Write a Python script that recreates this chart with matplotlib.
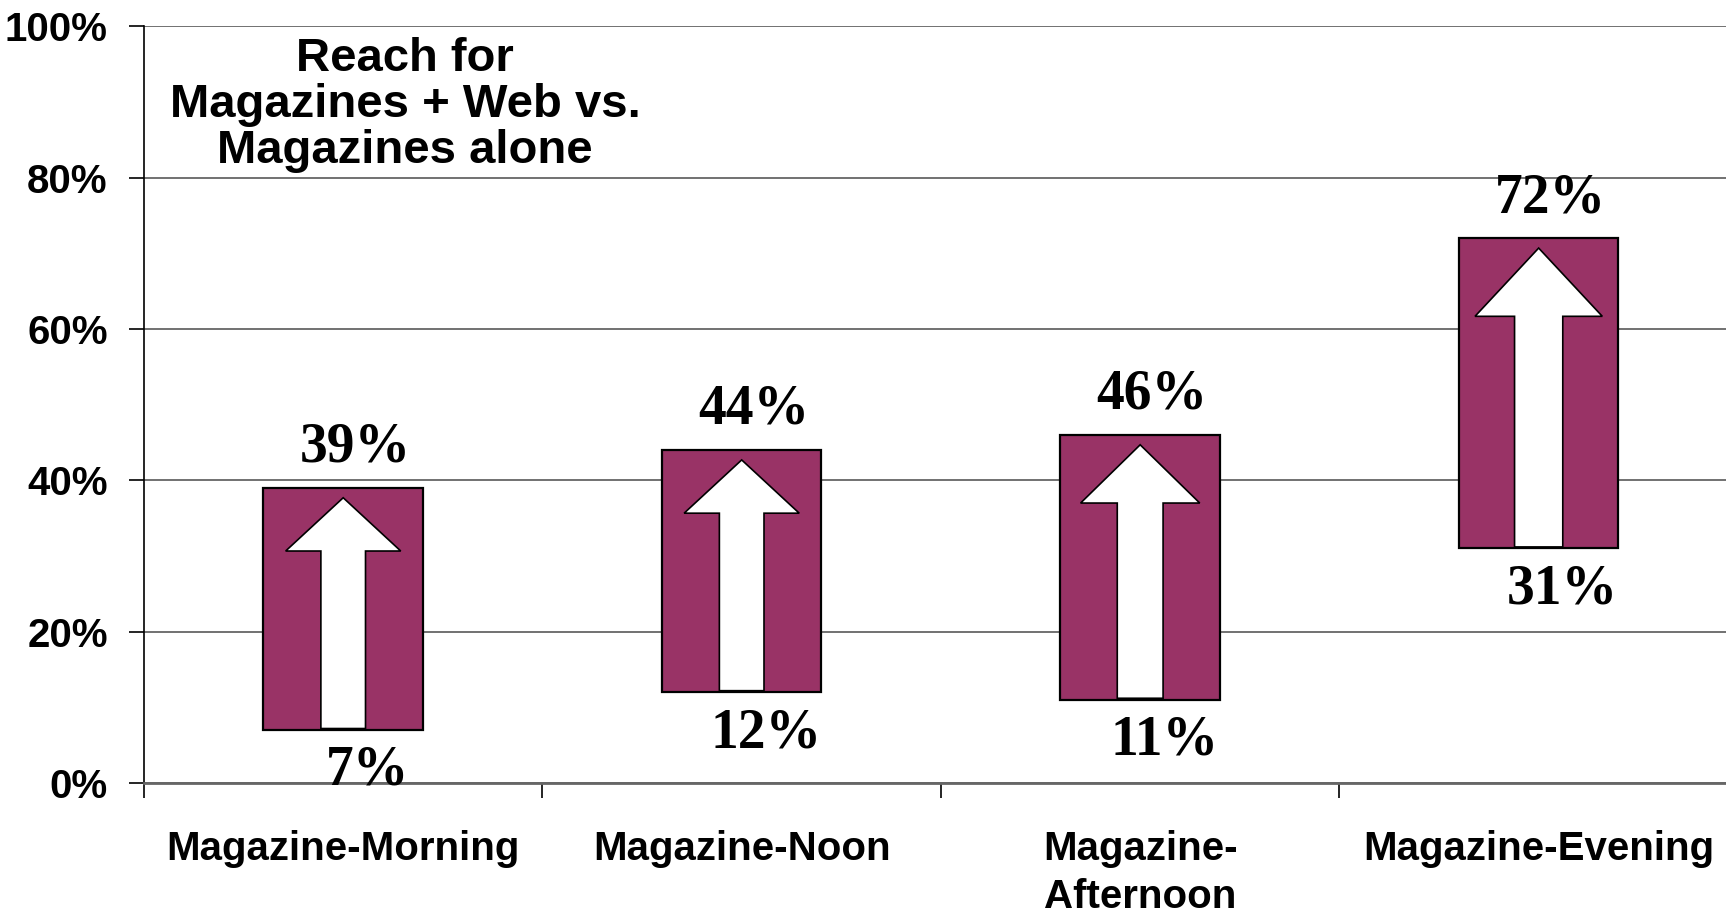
import matplotlib
matplotlib.use("Agg")
import matplotlib.pyplot as plt
from matplotlib.patches import Polygon
from matplotlib.ticker import FixedLocator, FuncFormatter

# ---- data ----
categories = ["Magazine-Morning", "Magazine-Noon", "Magazine-\nAfternoon", "Magazine-Evening"]
magazines_alone = [7, 12, 11, 31]       # reach, magazines alone (%)
magazines_web = [39, 44, 46, 72]         # reach, magazines + web (%)
y_ticks = [0, 20, 40, 60, 80, 100]
title_text = "Reach for\nMagazines + Web vs.\nMagazines alone"

BAR_COLOR = "#993366"
GRID_COLOR = "#666666"

fig = plt.figure(figsize=(17.26, 9.16), dpi=100)
ax = fig.add_axes([0.0834, 0.1452, 0.9235, 0.826])

x = list(range(len(categories)))
bar_w = 0.4
heights = [t - b for t, b in zip(magazines_web, magazines_alone)]
ax.bar(x, heights, bottom=magazines_alone, width=bar_w, color=BAR_COLOR,
       edgecolor="black", linewidth=1.6, zorder=3)

# white block arrows inside bars
for xi, lo, hi in zip(x, magazines_alone, magazines_web):
    span = hi - lo
    tip = hi - 1.3
    head_len = 0.22 * span
    hw = bar_w * (0.45 + 0.0085 * span) / 2
    sw = bar_w * (0.2 + 0.0025 * span) / 2
    base = tip - head_len
    bottom = lo + 0.2
    pts = [(xi, tip), (xi + hw, base), (xi + sw, base), (xi + sw, bottom),
           (xi - sw, bottom), (xi - sw, base), (xi - hw, base)]
    ax.add_patch(Polygon(pts, closed=True, facecolor="white", edgecolor="black",
                         linewidth=1.2, zorder=4))

# value labels
lab_font = dict(family="Liberation Serif", fontweight="bold", fontsize=40)
for xi, lo, hi in zip(x, magazines_alone, magazines_web):
    ax.text(xi + 0.03, hi + 5.3, f"{hi}%", ha="center", va="center", zorder=5, **lab_font)
    ax.text(xi + 0.06, lo - 5.4, f"{lo}%", ha="center", va="center", zorder=5, **lab_font)

# axes formatting
ax.set_xlim(-0.5, len(categories) - 0.5)
ax.set_ylim(0, 100)
ax.yaxis.set_major_locator(FixedLocator(y_ticks))
ax.yaxis.set_major_formatter(FuncFormatter(lambda v, p: f"{int(v)}%"))
ax.grid(axis="y", color=GRID_COLOR, linewidth=1.3, zorder=0)
ax.set_axisbelow(True)

ax.xaxis.set_major_locator(FixedLocator([i - 0.5 for i in x] + [len(x) - 0.5]))
ax.xaxis.set_major_formatter(FuncFormatter(lambda v, p: ""))
ax.xaxis.set_minor_locator(FixedLocator(x))
ax.set_xticklabels(categories, minor=True)
ax.tick_params(axis="x", which="major", direction="out", length=11, width=1.2, color="black")
ax.tick_params(axis="x", which="minor", length=0, pad=34)
ax.tick_params(axis="y", direction="out", length=11, width=1.2, pad=15)

for lbl in ax.get_xticklabels(minor=True):
    lbl.set_fontfamily("Liberation Sans")
    lbl.set_fontweight("bold")
    lbl.set_fontsize(29)
    lbl.set_verticalalignment("top")
    lbl.set_linespacing(1.32)
for lbl in ax.get_yticklabels():
    lbl.set_fontfamily("Liberation Sans")
    lbl.set_fontweight("bold")
    lbl.set_fontsize(29)

for s in ("top", "right"):
    ax.spines[s].set_visible(False)
ax.spines["left"].set_color("black")
ax.spines["left"].set_linewidth(1.2)
ax.spines["bottom"].set_color(GRID_COLOR)
ax.spines["bottom"].set_linewidth(2.0)

fig.text(405 / 1726, 1 - 105 / 916, title_text, ha="center", va="center",
         family="Liberation Sans", fontweight="bold", fontsize=34, linespacing=1.06)

fig.savefig("out.png", dpi=100)
